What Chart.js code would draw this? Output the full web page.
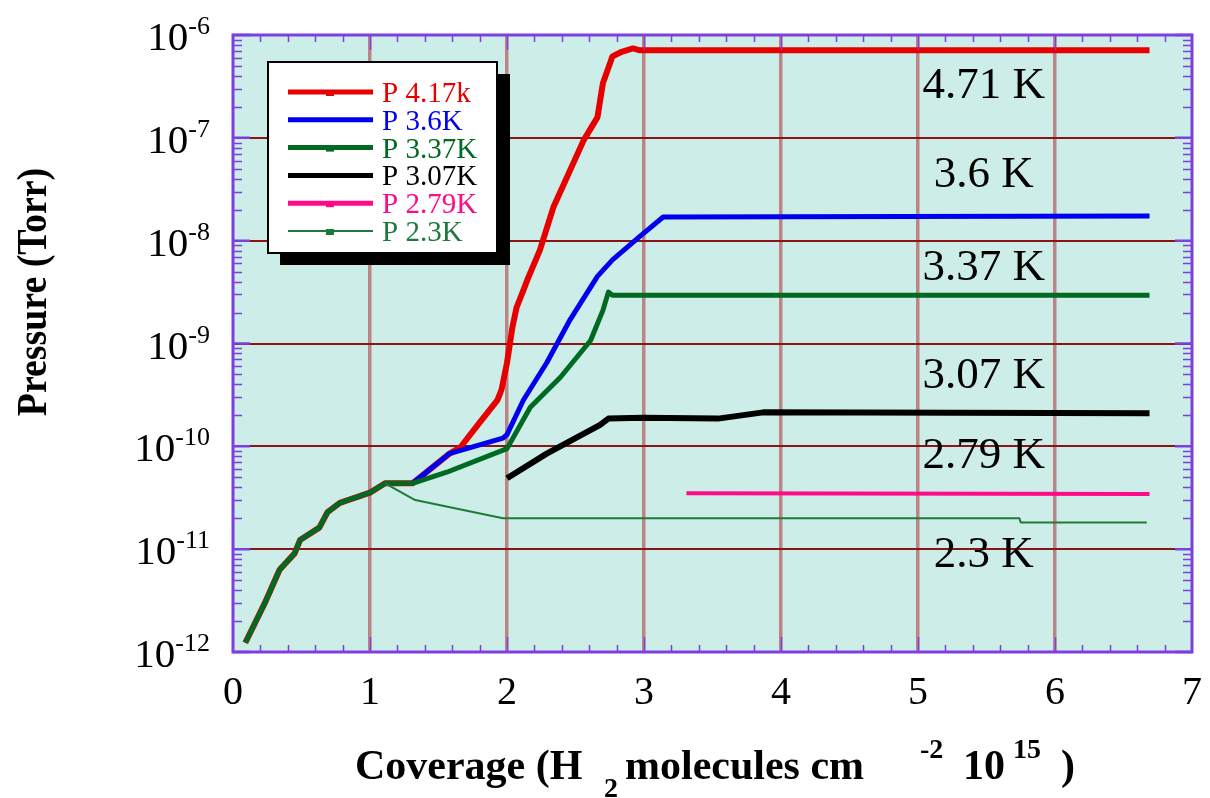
<!DOCTYPE html>
<html>
<head>
<meta charset="utf-8">
<script src="https://cdn.jsdelivr.net/npm/chart.js@4.4.0/dist/chart.umd.min.js"></script>
<style>
  body { margin: 0; background: #fff; }
</style>
</head>
<body>
<canvas id="chart" width="1210" height="798"></canvas>
<script>
// coverage (1e15 H2 molecules / cm^2) and pressure (Torr)
const seriesNames = ['P 4.17k', 'P 3.6K', 'P 3.37K', 'P 3.07K', 'P 2.79K', 'P 2.3K'];

const redX = [0.09, 0.23, 0.34, 0.45, 0.49, 0.63, 0.69, 0.78, 1.00, 1.11, 1.31, 1.34, 1.58, 1.66, 1.80, 1.93, 1.96, 2.00, 2.04, 2.07, 2.12, 2.15, 2.24, 2.34, 2.44, 2.56, 2.66, 2.70, 2.77, 2.83, 2.92, 2.97, 6.69];
const redP = [1.23e-12, 2.95e-12, 6.3e-12, 9.1e-12, 1.23e-11, 1.62e-11, 2.29e-11, 2.82e-11, 3.55e-11, 4.37e-11, 4.37e-11, 4.7e-11, 8.5e-11, 9.8e-11, 1.7e-10, 2.82e-10, 3.55e-10, 6.5e-10, 1.45e-9, 2.24e-9, 3.3e-9, 4.2e-9, 8.1e-9, 2.14e-8, 4.2e-8, 9.5e-8, 1.58e-7, 3.4e-7, 6.2e-7, 6.8e-7, 7.4e-7, 7.1e-7, 7.1e-7];

const blueX = [1.31, 1.34, 1.58, 1.97, 2.00, 2.12, 2.29, 2.46, 2.66, 2.77, 2.97, 3.14, 6.69];
const blueP = [4.37e-11, 4.7e-11, 8.5e-11, 1.2e-10, 1.3e-10, 2.82e-10, 6.5e-10, 1.7e-9, 4.5e-9, 6.5e-9, 1.1e-8, 1.7e-8, 1.74e-8];

const greenX = [0.09, 0.23, 0.34, 0.45, 0.49, 0.63, 0.69, 0.78, 1.00, 1.11, 1.31, 1.56, 2.00, 2.17, 2.39, 2.61, 2.70, 2.74, 2.77, 6.69];
const greenP = [1.23e-12, 2.95e-12, 6.3e-12, 9.1e-12, 1.23e-11, 1.62e-11, 2.29e-11, 2.82e-11, 3.55e-11, 4.37e-11, 4.37e-11, 5.6e-11, 9.5e-11, 2.4e-10, 4.7e-10, 1.07e-9, 2.1e-9, 3.16e-9, 2.95e-9, 2.95e-9];

const blackX = [2.00, 2.29, 2.68, 2.74, 2.99, 3.54, 3.87, 6.69];
const blackP = [4.9e-11, 8.5e-11, 1.62e-10, 1.86e-10, 1.9e-10, 1.86e-10, 2.14e-10, 2.1e-10];

const pinkX = [3.31, 6.69];
const pinkP = [3.5e-11, 3.43e-11];

const lowX = [1.11, 1.33, 1.97, 3.31, 5.74, 5.75, 6.67];
const lowP = [4.37e-11, 3.0e-11, 2.0e-11, 2.0e-11, 2.0e-11, 1.82e-11, 1.82e-11];

// temperature labels written on the right of the plot
const annotText = ['4.71 K', '3.6 K', '3.37 K', '3.07 K', '2.79 K', '2.3 K'];
const annotX = 5.48;
const annotP = [2.44e-7, 3.32e-8, 4.14e-9, 3.68e-10, 6.14e-11, 6.68e-12];

const xTicks = [0, 1, 2, 3, 4, 5, 6, 7];
const yExps = [-12, -11, -10, -9, -8, -7, -6];

const colors = ['#e60000', '#0000f0', '#006a22', '#000000', '#ff0a88', '#1e7a3a'];
const widths = [6, 5, 5, 6, 4, 2];
const legendMarks = [true, false, true, false, true, true];

function pts(xs, ys) {
  return xs.map((x, i) => ({ x: x, y: ys[i] }));
}

const SERIF = '"Liberation Serif", "Times New Roman", serif';
const PURPLE = '#7f3fe0';

const decorations = {
  id: 'decorations',
  beforeDraw(chart) {
    const { ctx, chartArea: a } = chart;
    ctx.save();
    ctx.fillStyle = '#cdede8';
    ctx.fillRect(a.left, a.top, a.right - a.left, a.bottom - a.top);
    ctx.restore();
  },
  afterDatasetsDraw(chart) {
    const { ctx, chartArea: a } = chart;
    const xs = chart.scales.x, ys = chart.scales.y;
    ctx.save();

    // purple frame and ticks
    ctx.strokeStyle = PURPLE;
    ctx.lineWidth = 1.5;
    ctx.beginPath();
    for (let e = -12; e < -6; e++) {
      for (let k = 2; k <= 9; k++) {
        const py = Math.round(ys.getPixelForValue(k * Math.pow(10, e))) + 0.5;
        ctx.moveTo(a.left, py); ctx.lineTo(a.left + 9, py);
        ctx.moveTo(a.right, py); ctx.lineTo(a.right - 9, py);
      }
    }
    for (let i = 1; i < 35; i++) {
      const v = i * 0.2;
      const len = (i % 5 === 0) ? 15 : 7;
      const px = Math.round(xs.getPixelForValue(v)) + 0.5;
      ctx.moveTo(px, a.bottom); ctx.lineTo(px, a.bottom - len);
      ctx.moveTo(px, a.top); ctx.lineTo(px, a.top + len);
    }
    ctx.stroke();
    ctx.lineWidth = 2.5;
    ctx.beginPath();
    yExps.forEach(e => {
      const py = ys.getPixelForValue(Math.pow(10, e));
      ctx.moveTo(a.left, py); ctx.lineTo(a.left + 17, py);
      ctx.moveTo(a.right, py); ctx.lineTo(a.right - 17, py);
    });
    ctx.stroke();
    ctx.lineWidth = 3;
    ctx.strokeRect(a.left, a.top, a.right - a.left, a.bottom - a.top);

    // tick labels
    ctx.fillStyle = '#000';
    ctx.textBaseline = 'alphabetic';
    ctx.font = '40px ' + SERIF;
    ctx.textAlign = 'center';
    xTicks.forEach(v => ctx.fillText(String(v), xs.getPixelForValue(v), 704));

    yExps.forEach(e => {
      const py = ys.getPixelForValue(Math.pow(10, e));
      const sup = '-' + (-e);
      ctx.font = '26px ' + SERIF;
      const sw = ctx.measureText(sup).width;
      ctx.textAlign = 'left';
      ctx.fillText(sup, 210 - sw, py - 1);
      ctx.font = '41px ' + SERIF;
      ctx.textAlign = 'right';
      ctx.fillText('10', 210 - sw, py + 15);
    });

    // temperature annotations
    ctx.font = '45px ' + SERIF;
    ctx.textAlign = 'center';
    annotText.forEach((t, i) => {
      ctx.fillText(t, xs.getPixelForValue(annotX), ys.getPixelForValue(annotP[i]));
    });

    // axis titles
    ctx.save();
    ctx.translate(35, 292);
    ctx.rotate(-Math.PI / 2);
    ctx.scale(0.88, 1);
    ctx.font = 'bold 43px ' + SERIF;
    ctx.textAlign = 'center';
    ctx.textBaseline = 'middle';
    ctx.fillText('Pressure (Torr)', 0, 0);
    ctx.restore();

    ctx.textAlign = 'left';
    ctx.font = 'bold 42px ' + SERIF;
    ctx.fillText('Coverage (H', 355, 779);
    ctx.fillText('molecules cm', 625, 779);
    ctx.fillText('10', 963, 779);
    ctx.fillText(')', 1061, 779);
    ctx.font = 'bold 28px ' + SERIF;
    ctx.fillText('2', 604, 797);
    ctx.fillText('-2', 920, 758);
    ctx.fillText('15', 1013, 758);

    // legend box
    ctx.fillStyle = '#000';
    ctx.fillRect(280, 74, 230, 191);
    ctx.fillStyle = '#fff';
    ctx.fillRect(268, 62, 229, 191);
    ctx.strokeStyle = '#000';
    ctx.lineWidth = 2;
    ctx.strokeRect(268, 62, 229, 191);
    ctx.font = '29px ' + SERIF;
    seriesNames.forEach((name, i) => {
      const cy = 92 + i * 27.8;
      ctx.strokeStyle = colors[i];
      ctx.lineWidth = i === 5 ? 2 : 5;
      ctx.beginPath();
      ctx.moveTo(288, cy); ctx.lineTo(373, cy);
      ctx.stroke();
      if (legendMarks[i]) {
        ctx.fillStyle = colors[i];
        ctx.fillRect(326, cy - 2, 8, 6);
      }
      ctx.fillStyle = colors[i];
      ctx.fillText(name, 382, cy + 10);
    });

    ctx.restore();
  }
};

const ctx = document.getElementById('chart').getContext('2d');
new Chart(ctx, {
  type: 'line',
  data: {
    datasets: [
      { label: seriesNames[0], data: pts(redX, redP), order: 6 },
      { label: seriesNames[1], data: pts(blueX, blueP), order: 3 },
      { label: seriesNames[2], data: pts(greenX, greenP), order: 2 },
      { label: seriesNames[3], data: pts(blackX, blackP), order: 4 },
      { label: seriesNames[4], data: pts(pinkX, pinkP), order: 5 },
      { label: seriesNames[5], data: pts(lowX, lowP), order: 1 }
    ].map((d, i) => Object.assign(d, {
      borderColor: colors[i],
      borderWidth: widths[i],
      pointRadius: 0,
      tension: 0,
      fill: false,
      borderJoinStyle: 'round',
      borderCapStyle: 'butt'
    }))
  },
  options: {
    responsive: false,
    animation: false,
    devicePixelRatio: 1,
    layout: { padding: { left: 233, right: 18, top: 35, bottom: 146 } },
    plugins: { legend: { display: false }, tooltip: { enabled: false } },
    scales: {
      x: {
        type: 'linear',
        min: 0,
        max: 7,
        ticks: { display: false, stepSize: 1 },
        border: { display: false },
        grid: {
          drawTicks: false,
          lineWidth: 3.5,
          color: c => (c.tick && (c.tick.value === 0 || c.tick.value === 7)) ? 'rgba(0,0,0,0)' : '#bb8585'
        },
        afterFit: s => { s.height = 0; }
      },
      y: {
        type: 'logarithmic',
        min: 1e-12,
        max: 1e-6,
        ticks: { display: false },
        border: { display: false },
        afterBuildTicks: s => { s.ticks = yExps.map(e => ({ value: Math.pow(10, e) })); },
        grid: {
          drawTicks: false,
          lineWidth: 2,
          color: c => (c.tick && (c.tick.value <= 1.01e-12 || c.tick.value >= 0.99e-6)) ? 'rgba(0,0,0,0)' : '#8b1414'
        },
        afterFit: s => { s.width = 0; }
      }
    }
  },
  plugins: [decorations]
});
</script>
</body>
</html>
